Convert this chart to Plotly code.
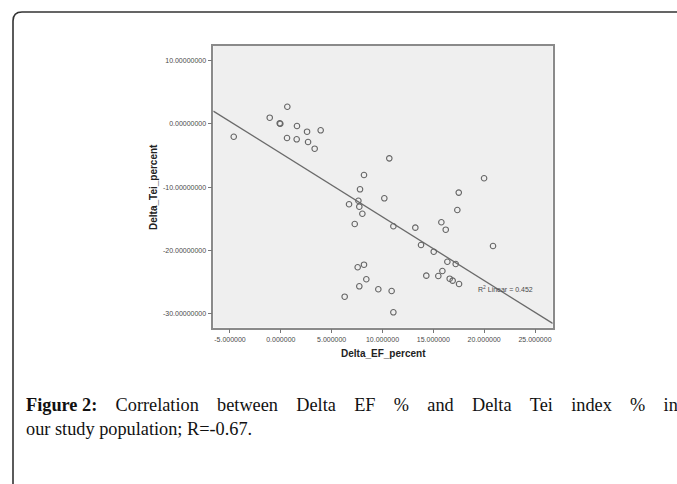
import numpy as np
import plotly.graph_objects as go

# ---- data ----
delta_ef = [-4.63, -1.09, 0.64, -0.11, -0.05, 1.59, 0.61, 1.56, 2.58, 2.68, 3.92, 3.33,
            8.18, 7.79, 10.67, 19.99, 7.63, 6.71, 7.72, 8.02, 7.27, 8.18, 7.56, 8.41,
            7.72, 6.28, 10.18, 17.50, 17.36, 15.79, 16.22, 11.07, 13.23, 13.79, 15.04,
            20.87, 16.38, 17.20, 9.59, 10.90, 11.07, 14.31, 15.49, 15.89, 16.61, 16.90, 17.53]
delta_tei = [-2.05, 0.95, 2.68, 0.06, 0.00, -0.36, -2.26, -2.46, -1.26, -2.89, -1.04, -3.94,
             -8.09, -10.35, -5.46, -8.61, -12.15, -12.71, -13.09, -14.20, -15.82, -22.24,
             -22.65, -24.54, -25.65, -27.29, -11.77, -10.87, -13.61, -15.55, -16.72, -16.18,
             -16.40, -19.13, -20.19, -19.29, -21.77, -22.13, -26.12, -26.39, -29.75, -23.97,
             -24.02, -23.23, -24.45, -24.76, -25.28]

x_tickvals = [-5, 0, 5, 10, 15, 20, 25]
x_ticktext = ["-5.000000", "0.000000", "5.000000", "10.000000", "15.000000", "20.000000", "25.000000"]
y_tickvals = [-30, -20, -10, 0, 10]
y_ticktext = ["-30.00000000", "-20.00000000", "-10.00000000", "0.00000000", "10.00000000"]

x_title = "Delta_EF_percent"
y_title = "Delta_Tei_percent"
r2_label = "R<sup>2</sup> Linear = 0.452"
caption_bold = "Figure 2:"
caption_line1 = "Correlation between Delta EF % and Delta Tei index % in"
caption_line2 = "our study population; R=-0.67."

# ---- layout geometry (pixels) ----
W, H = 677, 484
x_range = [-6.64, 26.74]
y_range = [-32.18, 12.26]
plot_left, plot_right, plot_top, plot_bottom = 213.3, 552.7, 46.0, 327.7

def px(x):
    return x / W

def py(y):
    return 1 - y / H

# regression line through the library's axes
x_arr = np.array(delta_ef)
y_arr = np.array(delta_tei)
slope, intercept = np.polyfit(x_arr, y_arr, 1)
line_x = np.array(x_range)
line_y = intercept + slope * line_x

fig = go.Figure()
fig.add_trace(go.Scatter(
    x=line_x, y=line_y, mode="lines",
    line=dict(color="#6a6a6a", width=1.3), hoverinfo="skip", showlegend=False))
fig.add_trace(go.Scatter(
    x=delta_ef, y=delta_tei, mode="markers",
    marker=dict(symbol="circle-open", size=5.5, color="#666666", line=dict(width=1.1)),
    showlegend=False))

tick_font = dict(family="Liberation Sans, Arial", size=7, color="#4a4a4a")
fig.update_xaxes(
    range=x_range, domain=[px(plot_left), px(plot_right)],
    tickvals=x_tickvals, ticktext=x_ticktext, tickfont=tick_font,
    ticks="outside", ticklen=4, tickcolor="#777777", tickwidth=1,
    showgrid=False, zeroline=False, showline=True, linecolor="#8a8a8a", linewidth=1.5,
    mirror=True, anchor="y")
fig.update_yaxes(
    range=y_range, domain=[py(plot_bottom), py(plot_top)],
    tickvals=y_tickvals, ticktext=y_ticktext, tickfont=tick_font,
    ticks="outside", ticklen=4, tickcolor="#777777", tickwidth=1,
    showgrid=False, zeroline=False, showline=True, linecolor="#8a8a8a", linewidth=1.5,
    mirror=True, anchor="x")

title_font = dict(family="Liberation Sans, Arial", size=10, color="#222222")
serif = "Liberation Serif, Times New Roman, serif"
cap_size = 18.3
nb = "&nbsp;"
line1_words = caption_line1.split(" ")
line1_text = ("<b>" + caption_bold + "</b>" + " " + nb * 3 +
              (" " + nb * 3).join(line1_words))

fig.update_layout(
    width=W, height=H,
    margin=dict(l=0, r=0, t=0, b=0),
    paper_bgcolor="white", plot_bgcolor="#efefef",
    annotations=[
        dict(text="<b>" + x_title + "</b>", x=px(383), y=py(353), xref="paper", yref="paper",
             showarrow=False, font=title_font, xanchor="center", yanchor="middle"),
        dict(text="<b>" + y_title + "</b>", x=px(153), y=py(187), xref="paper", yref="paper",
             showarrow=False, font=title_font, textangle=-90, xanchor="center", yanchor="middle"),
        dict(text=r2_label, x=px(476), y=py(289), xref="paper", yref="paper",
             showarrow=False, font=dict(family="Liberation Sans, Arial", size=7, color="#4a4a4a"),
             xanchor="left", yanchor="middle"),
        dict(text=line1_text, x=px(24), y=py(405), xref="paper", yref="paper",
             showarrow=False, font=dict(family=serif, size=cap_size, color="#111111"),
             xanchor="left", yanchor="middle"),
        dict(text=caption_line2, x=px(24), y=py(429), xref="paper", yref="paper",
             showarrow=False, font=dict(family=serif, size=cap_size, color="#111111"),
             xanchor="left", yanchor="middle"),
    ],
    shapes=[
        dict(type="path", xref="paper", yref="paper",
             path=(f"M {px(13)},{py(484)} L {px(13)},{py(21)} "
                   f"Q {px(13)},{py(12)} {px(22)},{py(12)} L {px(677)},{py(12)}"),
             line=dict(color="#333333", width=1.6)),
    ],
)

fig.write_html("out.html", config={"displayModeBar": False},
               post_script="document.body.style.margin='0';")
